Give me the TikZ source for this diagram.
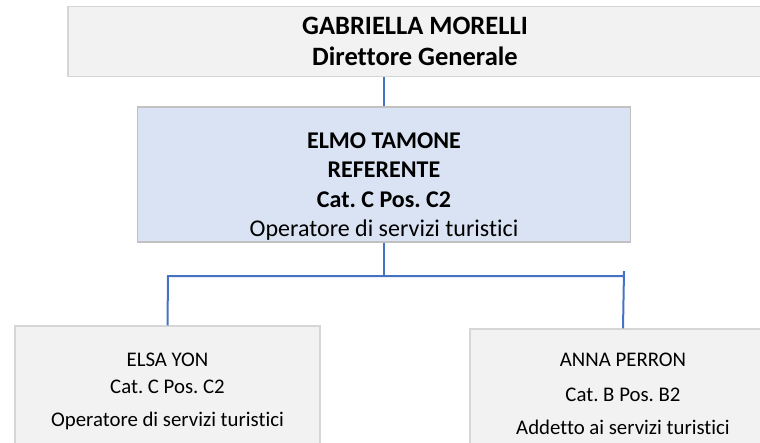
\documentclass[tikz,border=0pt]{standalone}
\usepackage{fontspec}
\setmainfont{Carlito}[Ligatures=NoCommon]
\usepackage{tikz}
\frenchspacing

\definecolor{boxgray}{HTML}{F2F2F2}
\definecolor{boxline}{HTML}{D6D6D6}
\definecolor{refblue}{HTML}{DAE3F3}
\definecolor{linkblue}{HTML}{4472C4}

\tikzset{
	card/.style={draw=boxline, line width=1.2pt, fill=boxgray, align=center, inner sep=0pt},
	refcard/.style={card, fill=refblue, draw=boxline!90!black},
	link/.style={draw=linkblue, line width=2pt}
}

\begin{document}
\begin{tikzpicture}[x=1pt,y=-1pt]
	\useasboundingbox (0,0) rectangle (760,442);
	\clip (0,0) rectangle (760,442);
			\node[card, minimum width=694pt, minimum height=70pt,
				font=\fontsize{26.5}{31}\selectfont\bfseries] (dir) at (415,41.5)
				{GABRIELLA MORELLI\\Direttore Generale};
			\node[refcard, minimum width=493pt, minimum height=135pt,
				font=\fontsize{24}{29.5}\selectfont] (ref) at (384,174.5)
				{\rule{0pt}{40pt}\textbf{ELMO TAMONE}\\\textbf{REFERENTE}\\\textbf{Cat. C Pos. C2}\\Operatore di servizi turistici};
			\node[card, minimum width=305pt, minimum height=130pt,
				font=\fontsize{20.8}{27}\selectfont] (elsa) at (167.5,391)
				{ELSA YON\\Cat. C Pos. C2\\[6pt]Operatore di servizi turistici};
			\node[card, minimum width=306pt, minimum height=130pt,
				font=\fontsize{20.8}{27}\selectfont] (anna) at (623,394)
				{ANNA PERRON\\[8pt]Cat. B Pos. B2\\[6pt]Addetto ai servizi turistici};
			% connectors
			\coordinate (busl) at (168,276);
			\coordinate (busr) at (624,276);
			\coordinate (tick) at (624,271);
			\draw[link] (ref.north |- dir.south) -- (ref.north);
			\draw[link] (ref.south) -- (ref.south |- busl);
			\draw[link] (elsa.north) -- (busl) -- (busr);
			\draw[link] (anna.north) -- (tick);
	\end{tikzpicture}
\end{document}
